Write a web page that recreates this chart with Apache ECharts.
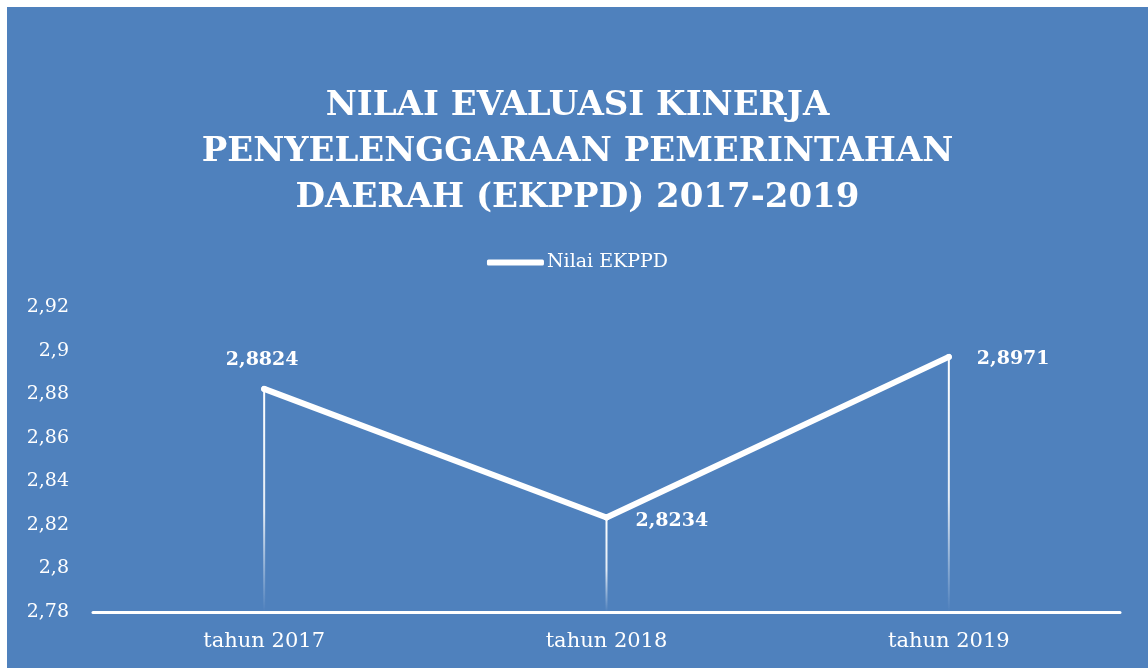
<!DOCTYPE html>
<html>
<head>
<meta charset="utf-8">
<script src="https://cdn.jsdelivr.net/npm/echarts@6/dist/echarts.min.js"></script>
<style>
  html, body { margin: 0; padding: 0; background: #fff; }
  #chart {
    position: absolute;
    left: 7px;
    top: 7px;
    width: 1141px;
    height: 661px;
    background: #4f81bd;
  }
</style>
</head>
<body>
<div id="chart"></div>
<script>
const categories = ['tahun 2017', 'tahun 2018', 'tahun 2019']
const ekppdValues = [2.8824, 2.8234, 2.8971]
const yTicks = [2.78, 2.8, 2.82, 2.84, 2.86, 2.88, 2.9, 2.92]

const serif = '"DejaVu Serif", "Liberation Serif", serif'
const toComma = (v) => String(v).replace('.', ',')

const chart = echarts.init(document.getElementById('chart'))

chart.setOption({
  backgroundColor: 'transparent',
  animation: false,
  title: {
    text: 'NILAI EVALUASI KINERJA\nPENYELENGGARAAN PEMERINTAHAN\nDAERAH (EKPPD) 2017-2019',
    left: 'center',
    top: 71,
    textStyle: {
      color: '#fff',
      fontFamily: serif,
      fontWeight: 'bold',
      fontSize: 34,
      lineHeight: 46,
    },
  },
  legend: {
    data: ['Nilai EKPPD'],
    top: 241,
    left: 'center',
    icon: 'roundRect',
    itemWidth: 57,
    itemHeight: 6,
    itemGap: 4,
    textStyle: { color: '#fff', fontFamily: serif, fontSize: 19, padding: [0, 0, 0, -2] },
  },
  grid: { left: 86, right: 28, top: 300, bottom: 56 },
  xAxis: {
    type: 'category',
    data: categories,
    axisLine: { lineStyle: { color: '#fff', width: 3 } },
    axisTick: { show: false },
    axisLabel: { color: '#fff', fontFamily: serif, fontSize: 21, margin: 19 },
  },
  yAxis: {
    type: 'value',
    min: yTicks[0],
    max: yTicks[yTicks.length - 1],
    interval: 0.02,
    axisLine: { show: false },
    axisTick: { show: false },
    splitLine: { show: false },
    axisLabel: {
      color: '#fff',
      fontFamily: serif,
      fontSize: 19,
      margin: 24,
      formatter: (v) => toComma(+v.toFixed(2)),
    },
  },
  series: [
    {
      name: 'drop',
      type: 'bar',
      barWidth: 2,
      silent: true,
      z: 1,
      data: ekppdValues,
      itemStyle: {
        color: new echarts.graphic.LinearGradient(0, 0, 0, 1, [
          { offset: 0, color: 'rgba(255,255,255,1)' },
          { offset: 0.55, color: 'rgba(255,255,255,0.85)' },
          { offset: 1, color: 'rgba(255,255,255,0)' },
        ]),
      },
    },
    {
      name: 'Nilai EKPPD',
      type: 'line',
      z: 3,
      symbol: 'circle',
      symbolSize: 6,
      itemStyle: { color: '#fff' },
      lineStyle: { color: '#fff', width: 6, cap: 'round', join: 'round' },
      data: ekppdValues.map((v, i) => ({
        value: v,
        label: [
          { position: 'top', distance: 16, offset: [-2, 0] },
          { position: 'right', distance: 26, offset: [0, 4] },
          { position: 'right', distance: 25, offset: [0, 2] },
        ][i],
      })),
      label: {
        show: true,
        color: '#fff',
        fontFamily: serif,
        fontWeight: 'bold',
        fontSize: 19,
        formatter: (p) => toComma(p.value),
      },
    },
  ],
})
</script>
</body>
</html>
